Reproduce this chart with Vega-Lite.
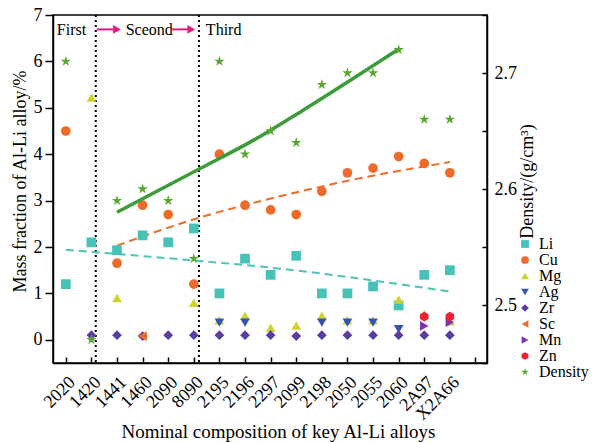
{
  "$schema": "https://vega.github.io/schema/vega-lite/v6.json",
  "width": 434,
  "height": 348,
  "autosize": {"type": "none"},
  "padding": {"left": 53, "top": 15, "right": 113, "bottom": 80},
  "background": "white",
  "config": {
    "font": "Liberation Serif",
    "view": {"stroke": "black", "strokeWidth": 1.5},
    "axis": {
      "grid": false,
      "labelFont": "Liberation Serif",
      "titleFont": "Liberation Serif",
      "labelFontSize": 18,
      "titleFontSize": 18,
      "titleFontWeight": "normal",
      "labelColor": "black",
      "titleColor": "black",
      "tickColor": "black",
      "domainColor": "black",
      "tickWidth": 1.5,
      "domainWidth": 1.5,
      "labelOverlap": false
    },
    "legend": {"labelFont": "Liberation Serif"}
  },
  "datasets": {
    "elements": [
      {"alloy": "2020", "n": 1, "element": "Li", "value": 1.2},
      {"alloy": "1420", "n": 2, "element": "Li", "value": 2.1},
      {"alloy": "1441", "n": 3, "element": "Li", "value": 1.93},
      {"alloy": "1460", "n": 4, "element": "Li", "value": 2.25},
      {"alloy": "2090", "n": 5, "element": "Li", "value": 2.1},
      {"alloy": "8090", "n": 6, "element": "Li", "value": 2.4},
      {"alloy": "2195", "n": 7, "element": "Li", "value": 1.0},
      {"alloy": "2196", "n": 8, "element": "Li", "value": 1.75},
      {"alloy": "2297", "n": 9, "element": "Li", "value": 1.4},
      {"alloy": "2099", "n": 10, "element": "Li", "value": 1.81},
      {"alloy": "2198", "n": 11, "element": "Li", "value": 1.0},
      {"alloy": "2050", "n": 12, "element": "Li", "value": 1.0},
      {"alloy": "2055", "n": 13, "element": "Li", "value": 1.15},
      {"alloy": "2060", "n": 14, "element": "Li", "value": 0.74},
      {"alloy": "2A97", "n": 15, "element": "Li", "value": 1.4},
      {"alloy": "X2A66", "n": 16, "element": "Li", "value": 1.5},
      {"alloy": "2020", "n": 1, "element": "Cu", "value": 4.5},
      {"alloy": "1441", "n": 3, "element": "Cu", "value": 1.65},
      {"alloy": "1460", "n": 4, "element": "Cu", "value": 2.9},
      {"alloy": "2090", "n": 5, "element": "Cu", "value": 2.7},
      {"alloy": "8090", "n": 6, "element": "Cu", "value": 1.2},
      {"alloy": "2195", "n": 7, "element": "Cu", "value": 4.0},
      {"alloy": "2196", "n": 8, "element": "Cu", "value": 2.9},
      {"alloy": "2297", "n": 9, "element": "Cu", "value": 2.8},
      {"alloy": "2099", "n": 10, "element": "Cu", "value": 2.7},
      {"alloy": "2198", "n": 11, "element": "Cu", "value": 3.2},
      {"alloy": "2050", "n": 12, "element": "Cu", "value": 3.6},
      {"alloy": "2055", "n": 13, "element": "Cu", "value": 3.7},
      {"alloy": "2060", "n": 14, "element": "Cu", "value": 3.95},
      {"alloy": "2A97", "n": 15, "element": "Cu", "value": 3.8},
      {"alloy": "X2A66", "n": 16, "element": "Cu", "value": 3.6},
      {"alloy": "1420", "n": 2, "element": "Mg", "value": 5.22},
      {"alloy": "1441", "n": 3, "element": "Mg", "value": 0.9},
      {"alloy": "8090", "n": 6, "element": "Mg", "value": 0.8},
      {"alloy": "2195", "n": 7, "element": "Mg", "value": 0.42},
      {"alloy": "2196", "n": 8, "element": "Mg", "value": 0.52},
      {"alloy": "2297", "n": 9, "element": "Mg", "value": 0.26},
      {"alloy": "2099", "n": 10, "element": "Mg", "value": 0.31},
      {"alloy": "2198", "n": 11, "element": "Mg", "value": 0.52},
      {"alloy": "2050", "n": 12, "element": "Mg", "value": 0.42},
      {"alloy": "2055", "n": 13, "element": "Mg", "value": 0.42},
      {"alloy": "2060", "n": 14, "element": "Mg", "value": 0.87},
      {"alloy": "2A97", "n": 15, "element": "Mg", "value": 0.55},
      {"alloy": "X2A66", "n": 16, "element": "Mg", "value": 0.4},
      {"alloy": "2195", "n": 7, "element": "Ag", "value": 0.37},
      {"alloy": "2196", "n": 8, "element": "Ag", "value": 0.37},
      {"alloy": "2198", "n": 11, "element": "Ag", "value": 0.37},
      {"alloy": "2050", "n": 12, "element": "Ag", "value": 0.37},
      {"alloy": "2055", "n": 13, "element": "Ag", "value": 0.37},
      {"alloy": "2060", "n": 14, "element": "Ag", "value": 0.23},
      {"alloy": "1420", "n": 2, "element": "Zr", "value": 0.1},
      {"alloy": "1441", "n": 3, "element": "Zr", "value": 0.1},
      {"alloy": "1460", "n": 4, "element": "Zr", "value": 0.08},
      {"alloy": "2090", "n": 5, "element": "Zr", "value": 0.1},
      {"alloy": "8090", "n": 6, "element": "Zr", "value": 0.1},
      {"alloy": "2195", "n": 7, "element": "Zr", "value": 0.1},
      {"alloy": "2196", "n": 8, "element": "Zr", "value": 0.1},
      {"alloy": "2297", "n": 9, "element": "Zr", "value": 0.1},
      {"alloy": "2099", "n": 10, "element": "Zr", "value": 0.08},
      {"alloy": "2198", "n": 11, "element": "Zr", "value": 0.1},
      {"alloy": "2050", "n": 12, "element": "Zr", "value": 0.1},
      {"alloy": "2055", "n": 13, "element": "Zr", "value": 0.1},
      {"alloy": "2060", "n": 14, "element": "Zr", "value": 0.1},
      {"alloy": "2A97", "n": 15, "element": "Zr", "value": 0.1},
      {"alloy": "X2A66", "n": 16, "element": "Zr", "value": 0.1},
      {"alloy": "1460", "n": 4, "element": "Sc", "value": 0.08},
      {"alloy": "2A97", "n": 15, "element": "Mn", "value": 0.3},
      {"alloy": "X2A66", "n": 16, "element": "Mn", "value": 0.38},
      {"alloy": "2A97", "n": 15, "element": "Zn", "value": 0.5},
      {"alloy": "X2A66", "n": 16, "element": "Zn", "value": 0.5}
    ],
    "density": [
      {"alloy": "2020", "n": 1, "element": "Density", "density": 2.71},
      {"alloy": "1420", "n": 2, "element": "Density", "density": 2.47},
      {"alloy": "1441", "n": 3, "element": "Density", "density": 2.59},
      {"alloy": "1460", "n": 4, "element": "Density", "density": 2.6},
      {"alloy": "2090", "n": 5, "element": "Density", "density": 2.59},
      {"alloy": "8090", "n": 6, "element": "Density", "density": 2.54},
      {"alloy": "2195", "n": 7, "element": "Density", "density": 2.71},
      {"alloy": "2196", "n": 8, "element": "Density", "density": 2.63},
      {"alloy": "2297", "n": 9, "element": "Density", "density": 2.65},
      {"alloy": "2099", "n": 10, "element": "Density", "density": 2.64},
      {"alloy": "2198", "n": 11, "element": "Density", "density": 2.69},
      {"alloy": "2050", "n": 12, "element": "Density", "density": 2.7},
      {"alloy": "2055", "n": 13, "element": "Density", "density": 2.7},
      {"alloy": "2060", "n": 14, "element": "Density", "density": 2.72},
      {"alloy": "2A97", "n": 15, "element": "Density", "density": 2.66},
      {"alloy": "X2A66", "n": 16, "element": "Density", "density": 2.66}
    ],
    "liTrend": [
      {"n": 1, "value": 1.94},
      {"n": 6.2, "value": 1.7},
      {"n": 8.57, "value": 1.58},
      {"n": 16, "value": 1.04}
    ],
    "cuTrend": [
      {"n": 3, "value": 2.03},
      {"n": 6.2, "value": 2.63},
      {"n": 8.97, "value": 3.04},
      {"n": 12.48, "value": 3.48},
      {"n": 16, "value": 3.83}
    ],
    "densityTrend": [
      {"n": 3, "density": 2.58},
      {"n": 6.19, "density": 2.617},
      {"n": 8.57, "density": 2.645},
      {"n": 10.13, "density": 2.666},
      {"n": 13.96, "density": 2.72}
    ],
    "dividers": [{"n": 2.17}, {"n": 6.2}],
    "stages": [
      {"label": "First", "n": 0.65, "value": 6.68},
      {"label": "Sceond", "n": 3.34, "value": 6.68},
      {"label": "Third", "n": 6.47, "value": 6.68}
    ],
    "arrowShafts": [
      {"n": 2.21, "to": 3.0, "value": 6.69},
      {"n": 5.14, "to": 5.9, "value": 6.69}
    ],
    "arrowHeads": [
      {"n": 3.0, "value": 6.69},
      {"n": 5.9, "value": 6.69}
    ]
  },
  "encoding": {
    "x": {
      "field": "n",
      "type": "quantitative",
      "title": "Nominal composition of key Al-Li alloys",
      "scale": {"domain": [0.5, 17.45], "nice": false, "zero": false},
      "axis": {
        "values": [1, 2, 3, 4, 5, 6, 7, 8, 9, 10, 11, 12, 13, 14, 15, 16, 17],
        "labelExpr": "['','2020','1420','1441','1460','2090','8090','2195','2196','2297','2099','2198','2050','2055','2060','2A97','X2A66',''][datum.value]",
        "labelOverlap": false,
        "labelAngle": -45,
        "labelAlign": "right",
        "labelBaseline": "top",
        "tickSize": -6,
        "labelPadding": 16,
        "titleFontSize": 19,
        "titleX": 225,
        "titleY": 74,
        "titleAlign": "center",
        "titleBaseline": "alphabetic"
      }
    }
  },
  "layer": [
    {
      "data": {"name": "dividers"},
      "mark": {"type": "rule", "color": "black", "strokeWidth": 2, "strokeDash": [2, 3]},
      "encoding": {}
    },
    {
      "encoding": {
        "y": {
          "field": "value",
          "type": "quantitative",
          "title": "Mass fraction of Al-Li alloy/%",
          "scale": {"domain": [-0.5, 7], "nice": false, "zero": false},
          "axis": {
            "values": [0, 1, 2, 3, 4, 5, 6, 7],
            "tickSize": 8,
            "labelPadding": 3,
            "titleAngle": -90,
            "titleX": -33,
            "titleY": 166,
            "titleAlign": "center",
            "titleBaseline": "middle"
          }
        }
      },
      "layer": [
        {
          "data": {"name": "stages"},
          "mark": {"type": "text", "align": "left", "baseline": "middle", "fontSize": 16, "font": "Liberation Serif", "color": "black"},
          "encoding": {"text": {"field": "label"}}
        },
        {
          "data": {"name": "arrowShafts"},
          "mark": {"type": "rule", "color": "#e6197d", "strokeWidth": 2},
          "encoding": {"x2": {"field": "to"}}
        },
        {
          "data": {"name": "arrowHeads"},
          "mark": {"type": "point", "shape": "triangle-right", "filled": true, "opacity": 1, "color": "#e6197d", "size": 80},
          "encoding": {}
        },
        {
          "data": {"name": "liTrend"},
          "mark": {"type": "line", "color": "#4cc4bb", "strokeWidth": 2, "strokeDash": [8, 5], "interpolate": "monotone"},
          "encoding": {}
        },
        {
          "data": {"name": "cuTrend"},
          "mark": {"type": "line", "color": "#ee6c2a", "strokeWidth": 2, "strokeDash": [8, 5], "interpolate": "monotone"},
          "encoding": {}
        },
        {
          "data": {"name": "elements"},
          "mark": {"type": "point", "filled": true, "opacity": 1, "size": 95, "strokeWidth": 0},
          "encoding": {
            "color": {
              "field": "element",
              "type": "nominal",
              "scale": {
                "domain": ["Li", "Cu", "Mg", "Ag", "Zr", "Sc", "Mn", "Zn", "Density"],
                "range": ["#46c2b8", "#ee6c2a", "#d0d22a", "#3553b3", "#5a3ca3", "#ee6c2a", "#7c34b3", "#ef2030", "#5aa832"]
              },
              "legend": {
                "title": null,
                "orient": "none",
                "legendX": 464,
                "legendY": 221,
                "labelFontSize": 16,
                "symbolSize": 60,
                "rowPadding": 0,
                "labelOffset": 6,
                "padding": 0,
                "symbolStrokeWidth": 0,
                "labelBaseline": "middle"
              }
            },
            "shape": {
              "field": "element",
              "type": "nominal",
              "scale": {
                "domain": ["Li", "Cu", "Mg", "Ag", "Zr", "Sc", "Mn", "Zn", "Density"],
                "range": ["square", "circle", "triangle-up", "triangle-down", "diamond", "triangle-left", "triangle-right", "M0,-1L0.866,-0.5L0.866,0.5L0,1L-0.866,0.5L-0.866,-0.5Z", "M0,-1L0.2245,-0.309L0.951,-0.309L0.363,0.118L0.588,0.809L0,0.382L-0.588,0.809L-0.363,0.118L-0.951,-0.309L-0.2245,-0.309Z"]
              },
              "legend": {
                "title": null,
                "orient": "none",
                "legendX": 464,
                "legendY": 221,
                "labelFontSize": 16,
                "symbolSize": 60,
                "rowPadding": 0,
                "labelOffset": 6,
                "padding": 0,
                "symbolStrokeWidth": 0,
                "labelBaseline": "middle"
              }
            }
          }
        }
      ]
    },
    {
      "encoding": {
        "y": {
          "field": "density",
          "type": "quantitative",
          "title": "Density/(g/cm³)",
          "scale": {"domain": [2.45, 2.75], "nice": false, "zero": false},
          "axis": {
            "orient": "right",
            "values": [2.45, 2.5, 2.55, 2.6, 2.65, 2.7, 2.75],
            "labelExpr": "round(datum.value * 100) % 10 === 0 ? format(datum.value, '.1f') : ''",
            "tickSize": -5,
            "labelPadding": 12,
            "titleAngle": -90,
            "titleX": 40,
            "titleY": 166,
            "titleAlign": "center",
            "titleBaseline": "middle"
          }
        }
      },
      "layer": [
        {
          "data": {"name": "densityTrend"},
          "mark": {"type": "line", "color": "#3d9c3a", "strokeWidth": 3.5, "interpolate": "monotone"},
          "encoding": {}
        },
        {
          "data": {"name": "density"},
          "mark": {"type": "point", "filled": true, "opacity": 1, "size": 120, "strokeWidth": 0},
          "encoding": {
            "color": {"field": "element", "type": "nominal"},
            "shape": {"field": "element", "type": "nominal"}
          }
        }
      ]
    }
  ],
  "resolve": {"scale": {"y": "independent"}}
}
